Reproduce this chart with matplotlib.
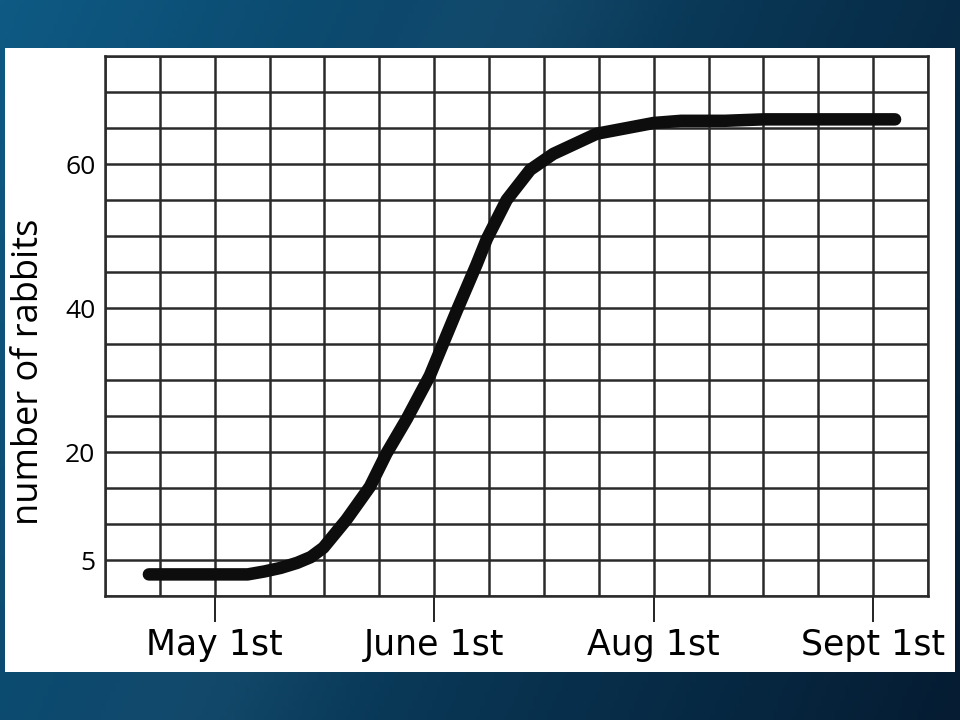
import matplotlib.pyplot as plt
import numpy as np
from matplotlib.patches import Rectangle

# rabbit population (x in grid columns, y in rabbits)
days = [0.8, 1.6, 2.6, 2.9, 3.2, 3.5, 3.75, 3.98, 4.4, 4.83, 5.13, 5.5,
        5.92, 6.41, 6.77, 6.96, 7.32, 7.75, 8.17, 8.96, 10.0, 10.5, 11.3,
        12.0, 13.0, 14.4]
rabbits = [3.0, 3.0, 3.0, 3.4, 3.9, 4.6, 5.4, 6.7, 10.6, 15.2, 19.8, 24.6,
           30.6, 39.6, 46.0, 49.6, 55.0, 59.2, 61.4, 64.2, 65.7, 66.0, 66.0,
           66.2, 66.2, 66.2]

month_pos = [2, 6, 10, 14]
month_labels = ['May 1st', 'June 1st', 'Aug 1st', 'Sept 1st']
count_ticks = [5, 20, 40, 60]

fig = plt.figure(figsize=(9.6, 7.2), dpi=100)

# slide background: blue gradient
bg = fig.add_axes([0, 0, 1, 1], zorder=-5)
xx, yy = np.meshgrid(np.linspace(0, 1, 200), np.linspace(0, 1, 150))
left = np.array([14, 90, 132]) / 255
right = np.array([5, 28, 50]) / 255
t = np.clip(0.75 * xx + 0.25 * yy, 0, 1)[..., None]
img = left * (1 - t) + right * t
band = np.exp(-((xx - 0.55 + 0.35 * yy) / 0.12) ** 2)[..., None]
img = np.clip(img + 0.03 * band, 0, 1)
bg.imshow(img, extent=[0, 1, 0, 1], aspect='auto', origin='upper')
bg.axis('off')

# white panel behind the chart
fig.patches.append(Rectangle((5 / 960, 48 / 720), 950 / 960, 624 / 720,
                             transform=fig.transFigure, facecolor='white',
                             edgecolor='none', zorder=-4))

ax = fig.add_axes([105 / 960, 124 / 720, 823 / 960, 540 / 720])
ax.set_facecolor('white')
ax.set_xlim(0, 15)
ax.set_ylim(0, 75)

ax.set_xticks(np.arange(0, 16), minor=True)
ax.set_yticks(np.arange(0, 76, 5), minor=True)
ax.set_xticks(month_pos)
ax.set_xticklabels(month_labels, fontsize=25, family='DejaVu Sans')
ax.set_yticks(count_ticks)
ax.set_yticklabels([str(v) for v in count_ticks], fontsize=19,
                   family='Open Sans')
ax.grid(which='both', color='#2a2a2a', lw=1.8)
ax.set_axisbelow(True)
ax.tick_params(which='minor', length=0)
ax.tick_params(axis='x', which='major', length=19, width=1.3, color='#111111',
               pad=4)
ax.tick_params(axis='y', which='major', length=0, pad=7)
for sp in ax.spines.values():
    sp.set_color('#2a2a2a')
    sp.set_linewidth(1.8)

ax.plot(days, rabbits, color='#0d0d0d', lw=9, solid_capstyle='round',
        solid_joinstyle='round', zorder=5)

fig.text(29 / 960, 1 - 372 / 720, 'number of rabbits', rotation=90,
         fontsize=26, family='Open Sans', ha='center', va='center')

fig.savefig('out.png', dpi=100)
